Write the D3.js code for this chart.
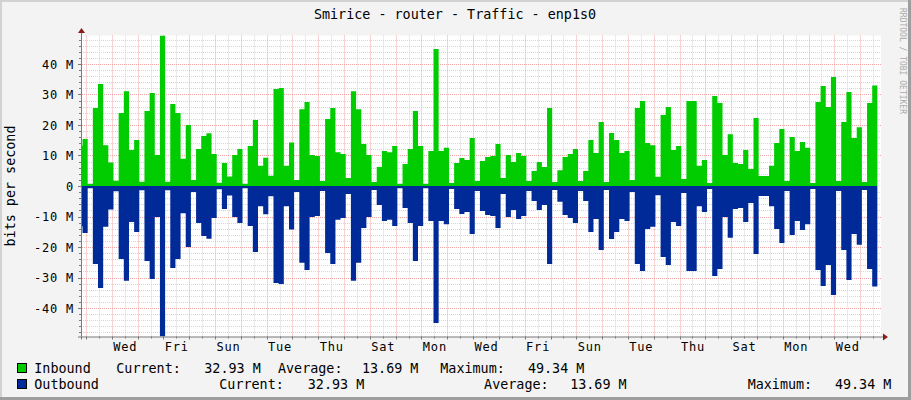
<!DOCTYPE html>
<html><head><meta charset="utf-8">
<script src="https://cdn.jsdelivr.net/npm/d3@7/dist/d3.min.js"></script>
<style>html,body{margin:0;padding:0;background:#f3f3f3;overflow:hidden;} svg{display:block;}</style>
</head><body><svg id="chart" width="911" height="400"></svg>
<script>
// ---- data (Mbit/s, one value per 4.8 h step) ----
const inboundValues = [
 13.2,15.4,0.7,25.6,33.4,13.4,7.7,1.7,23.9,31.1,
 11.8,15.1,1.4,24.6,30.5,10.2,49.34,1.4,26.9,23.9,
 8.9,20.0,2.0,12.1,16.4,17.3,10.5,1.1,7.5,3.1,
 10.2,12.1,0.7,13.1,21.6,6.6,9.3,3.4,31.8,32.1,
 6.6,14.3,2.0,25.2,27.5,10.2,9.8,1.6,22.0,25.6,
 11.1,10.5,2.6,31.1,25.2,13.8,10.2,1.3,6.2,11.5,
 11.1,13.1,0.7,7.2,12.1,24.6,13.1,0.7,11.5,44.9,
 11.5,12.5,1.0,7.5,9.2,8.5,15.7,1.6,8.2,9.5,
 9.8,13.8,2.6,10.2,7.9,10.8,9.8,1.6,4.9,7.9,
 6.2,25.6,1.3,5.2,9.5,10.5,12.1,1.6,4.9,15.1,
 10.8,21.0,1.3,17.4,15.1,10.8,11.5,2.0,25.6,27.9,
 14.1,13.4,3.0,23.3,25.9,11.8,13.1,2.3,27.9,27.9,
 6.6,8.5,1.0,29.5,27.2,10.2,17.0,7.5,7.2,11.8,
 5.6,22.3,3.3,3.3,6.6,14.1,18.7,1.6,16.1,11.5,
 14.4,12.5,1.0,27.5,32.8,25.9,35.7,1.6,21.0,30.8,
 15.7,19.3,1.3,27.2,32.93
];
const outboundValues = [
 13.2,15.4,0.7,25.6,33.4,13.4,7.7,1.7,23.9,31.1,
 11.8,15.1,1.4,24.6,30.5,10.2,49.34,1.4,26.9,23.9,
 8.9,20.0,2.0,12.1,16.4,17.3,10.5,1.1,7.5,3.1,
 10.2,12.1,0.7,13.1,21.6,6.6,9.3,3.4,31.8,32.1,
 6.6,14.3,2.0,25.2,27.5,10.2,9.8,1.6,22.0,25.6,
 11.1,10.5,2.6,31.1,25.2,13.8,10.2,1.3,6.2,11.5,
 11.1,13.1,0.7,7.2,12.1,24.6,13.1,0.7,11.5,44.9,
 11.5,12.5,1.0,7.5,9.2,8.5,15.7,1.6,8.2,9.5,
 9.8,13.8,2.6,10.2,7.9,10.8,9.8,1.6,4.9,7.9,
 6.2,25.6,1.3,5.2,9.5,10.5,12.1,1.6,4.9,15.1,
 10.8,21.0,1.3,17.4,15.1,10.8,11.5,2.0,25.6,27.9,
 14.1,13.4,3.0,23.3,25.9,11.8,13.1,2.3,27.9,27.9,
 6.6,8.5,1.0,29.5,27.2,10.2,17.0,7.5,7.2,11.8,
 5.6,22.3,3.3,3.3,6.6,14.1,18.7,1.6,16.1,11.5,
 14.4,12.5,1.0,27.5,32.8,25.9,35.7,1.6,21.0,30.8,
 15.7,19.3,1.3,27.2,32.93
];
const firstStepDay = -0.335;   // time of first sample, days from first midnight
const stepDays = 0.2;          // 4.8 hours per sample
const timeDomain = [-0.194, 30.806];
const valueDomain = [-49.34, 49.34];
const dayLabels = ["Wed","Fri","Sun","Tue","Thu","Sat","Mon","Wed","Fri","Sun","Tue","Thu","Sat","Mon","Wed"];
const dayLabelDays = [1.5,3.5,5.5,7.5,9.5,11.5,13.5,15.5,17.5,19.5,21.5,23.5,25.5,27.5,29.5];
const yTickValues = [-40,-30,-20,-10,0,10,20,30,40];
const yTickLabels = ["-40 M","-30 M","-20 M","-10 M","0","10 M","20 M","30 M","40 M"];
const seriesNames = ["Inbound","Outbound"];
const seriesColors = ["#00cc00","#002a97"];
const statNames = ["Current:","Average:","Maximum:"];
const inboundStats = ["32.93 M","13.69 M","49.34 M"];
const outboundStats = ["32.93 M","13.69 M","49.34 M"];
const chartTitle = "Smirice - router - Traffic - enp1s0";
const yAxisTitle = "bits per second";
const watermark = "RRDTOOL / TOBI OETIKER";

// ---- drawing ----
const W = 911, H = 400;
const plot = {left: 81, right: 881, top: 35.5, bottom: 336.5};
const svg = d3.select("#chart");
const mono = "'DejaVu Sans Mono', 'Liberation Mono', monospace";

svg.append("rect").attr("width", W).attr("height", H).attr("fill", "#f3f3f3");
svg.append("rect").attr("x",0).attr("y",0).attr("width",W).attr("height",2).attr("fill","#d2d2d2");
svg.append("rect").attr("x",0).attr("y",0).attr("width",2).attr("height",H).attr("fill","#d2d2d2");
svg.append("rect").attr("x",0).attr("y",H-3).attr("width",W).attr("height",3).attr("fill","#9e9e9e");
svg.append("rect").attr("x",W-3).attr("y",0).attr("width",3).attr("height",H).attr("fill","#9e9e9e");

const x = d3.scaleLinear().domain(timeDomain).range([plot.left, plot.right]);
const y = d3.scaleLinear().domain(valueDomain).range([plot.bottom, plot.top]);

svg.append("rect").attr("x", plot.left).attr("y", plot.top)
  .attr("width", plot.right - plot.left).attr("height", plot.bottom - plot.top).attr("fill", "#ffffff");

const grid = svg.append("g");
// minor horizontal (every 2 M)
const minorY = d3.range(-48, 49, 2).filter(v => v % 10 !== 0);
grid.selectAll(".hmin").data(minorY).join("line")
  .attr("x1", plot.left).attr("x2", plot.right)
  .attr("y1", d => Math.round(y(d)) + 0.5).attr("y2", d => Math.round(y(d)) + 0.5)
  .attr("stroke", "#d6d6d6").attr("stroke-dasharray", "1,1");
// minor vertical (noon)
const minorX = d3.range(-0.5, 31, 1).filter(d => d > timeDomain[0] && d < timeDomain[1]);
grid.selectAll(".vmin").data(minorX).join("line")
  .attr("x1", d => Math.round(x(d)) + 0.5).attr("x2", d => Math.round(x(d)) + 0.5)
  .attr("y1", plot.top).attr("y2", plot.bottom)
  .attr("stroke", "#d6d6d6").attr("stroke-dasharray", "1,1");
// major horizontal
grid.selectAll(".hmaj").data(yTickValues.filter(v => v !== 0)).join("line")
  .attr("x1", plot.left - 3).attr("x2", plot.right)
  .attr("y1", d => Math.round(y(d)) + 0.5).attr("y2", d => Math.round(y(d)) + 0.5)
  .attr("stroke", "#f2a6a6").attr("stroke-dasharray", "1,1");
// major vertical (midnight)
const majorX = d3.range(0, 31, 1);
grid.selectAll(".vmaj").data(majorX).join("line")
  .attr("x1", d => Math.round(x(d)) + 0.5).attr("x2", d => Math.round(x(d)) + 0.5)
  .attr("y1", plot.top).attr("y2", plot.bottom + 3)
  .attr("stroke", "#f2a6a6").attr("stroke-dasharray", "1,1");

// clip
svg.append("clipPath").attr("id", "clip").append("rect")
  .attr("x", plot.left).attr("y", plot.top)
  .attr("width", plot.right - plot.left).attr("height", plot.bottom - plot.top);

function stepPoints(vals, sign) {
  const pts = vals.map((v, i) => ({t: firstStepDay + i * stepDays, v: sign * v}));
  pts.push({t: firstStepDay + vals.length * stepDays, v: sign * vals[vals.length - 1]});
  return pts;
}
const area = d3.area().curve(d3.curveStepAfter)
  .x(d => x(d.t)).y0(y(0)).y1(d => y(d.v));
const g = svg.append("g").attr("clip-path", "url(#clip)");
g.append("path").datum(stepPoints(inboundValues, 1)).attr("d", area).attr("fill", seriesColors[0]);
g.append("path").datum(stepPoints(outboundValues, -1)).attr("d", area).attr("fill", seriesColors[1]);

// axes
const axisColor = "#7a7a7a";
svg.append("line").attr("x1", plot.left + 0.5).attr("x2", plot.left + 0.5)
  .attr("y1", plot.bottom + 3).attr("y2", 33).attr("stroke", axisColor);
svg.append("line").attr("x1", plot.left - 3).attr("x2", 883)
  .attr("y1", plot.bottom + 0.5).attr("y2", plot.bottom + 0.5).attr("stroke", axisColor);
svg.append("path").attr("d", `M${plot.left - 3},33 L${plot.left + 4},33 L${plot.left + 0.5},28 Z`).attr("fill", "#8b1a1a");
svg.append("path").attr("d", `M883,${plot.bottom - 3} L883,${plot.bottom + 4} L888,${plot.bottom + 0.5} Z`).attr("fill", "#8b1a1a");
// y ticks
svg.selectAll(".ytk").data(d3.range(-48, 49, 2)).join("line")
  .attr("x1", d => d % 10 === 0 ? plot.left - 3 : plot.left - 2).attr("x2", plot.left)
  .attr("y1", d => Math.round(y(d)) + 0.5).attr("y2", d => Math.round(y(d)) + 0.5)
  .attr("stroke", axisColor);
// x ticks
svg.selectAll(".xtk").data(minorX.concat(majorX)).join("line")
  .attr("x1", d => Math.round(x(d)) + 0.5).attr("x2", d => Math.round(x(d)) + 0.5)
  .attr("y1", plot.bottom).attr("y2", d => Number.isInteger(d) ? plot.bottom + 3 : plot.bottom + 2)
  .attr("stroke", axisColor);

const axisFont = {family: mono, size: "12px", spacing: "0.8px"};
svg.append("g").selectAll("text").data(yTickValues).join("text")
  .attr("x", 74).attr("y", d => y(d) + 4.6)
  .attr("text-anchor", "end").attr("font-family", axisFont.family)
  .attr("font-size", axisFont.size).attr("letter-spacing", axisFont.spacing).attr("fill", "#000")
  .text((d, i) => yTickLabels[i]);
svg.append("g").selectAll("text").data(dayLabelDays).join("text")
  .attr("x", d => x(d) + 0.5).attr("y", 350.5)
  .attr("text-anchor", "middle").attr("font-family", axisFont.family)
  .attr("font-size", axisFont.size).attr("letter-spacing", axisFont.spacing).attr("fill", "#000")
  .text((d, i) => dayLabels[i]);

// titles
svg.append("text").attr("x", 455).attr("y", 19.3).attr("text-anchor", "middle")
  .attr("font-family", mono).attr("font-size", "13.4px").attr("fill", "#000").text(chartTitle);
svg.append("text").attr("transform", `translate(15,${(plot.top + plot.bottom) / 2}) rotate(-90)`)
  .attr("text-anchor", "middle").attr("font-family", mono).attr("font-size", "13.4px")
  .attr("fill", "#000").text(yAxisTitle);
svg.append("text").attr("transform", "translate(900,8) rotate(90)")
  .attr("font-family", mono).attr("font-size", "8px").attr("fill", "#aaaaaa").text(watermark);

// legend
const legendRows = [
  {name: seriesNames[0], color: seriesColors[0], stats: inboundStats, y: 373,
   xs: [34.3, 116.3, 204.3, 278, 362, 440.3, 527.9]},
  {name: seriesNames[1], color: seriesColors[1], stats: outboundStats, y: 389,
   xs: [34.3, 219.3, 307.8, 484.1, 570.2, 747.7, 834.9]}
];
legendRows.forEach(r => {
  svg.append("rect").attr("x", 17.5).attr("y", r.y - 9.5).attr("width", 9).attr("height", 9)
    .attr("fill", r.color).attr("stroke", "#000");
  const pieces = [r.name, statNames[0], r.stats[0], statNames[1], r.stats[1], statNames[2], r.stats[2]];
  svg.append("g").selectAll("text").data(pieces).join("text")
    .attr("x", (d, i) => r.xs[i]).attr("y", r.y)
    .attr("font-family", mono).attr("font-size", "13.4px").attr("fill", "#000")
    .text(d => d);
});
</script>
</body></html>
